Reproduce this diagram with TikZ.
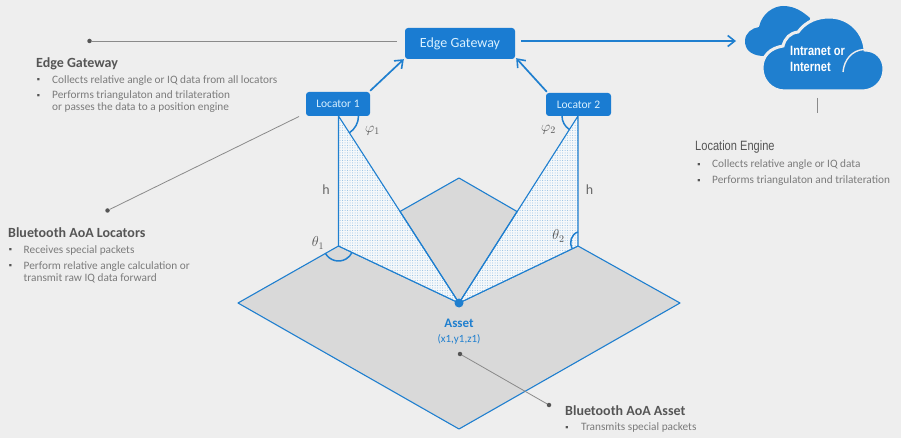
\documentclass[tikz,border=0pt]{standalone}
\usepackage{fontspec}
\setmainfont{Carlito}
\newfontfamily\cloudfont[FakeStretch=0.82]{Liberation Sans}
\usetikzlibrary{patterns.meta,arrows.meta}
\definecolor{bgc}{HTML}{EEEEEE}
\definecolor{bluec}{HTML}{1F7FCF}
\definecolor{boxc}{HTML}{1A7CD2}
\definecolor{floorc}{HTML}{D9D9D9}
\definecolor{headc}{HTML}{555555}
\definecolor{bodyc}{HTML}{7B7B7B}
\definecolor{leadc}{HTML}{8A8A8A}
\definecolor{lblc}{HTML}{D8F0FF}
\definecolor{dotc}{HTML}{8DBBE2}
\definecolor{trifill}{HTML}{F5F8FA}
\tikzset{
  txt/.style={inner sep=0pt,anchor=west,align=left},
  headtxt/.style={txt,text=headc,font=\fontsize{14}{16}\selectfont\bfseries},
  bodytxt/.style={txt,text=bodyc,font=\fontsize{11.3}{12}\selectfont},
  bullettxt/.style={inner sep=0pt,text=headc,font=\fontsize{9}{10}\selectfont},
  blubox/.style={draw=none,fill=boxc,rounded corners=3pt,text=lblc,inner sep=0pt,align=center},
  floorline/.style={draw=bluec,line width=1.1pt,line join=round},
  flow/.style={draw=bluec,line width=1.7pt,-{Straight Barb[length=7pt,width=11pt,line width=1.6pt]}},
  anglearc/.style={draw=bluec,line width=1.5pt},
  leader/.style={draw=leadc,line width=0.8pt},
  leaddot/.style={circle,fill=headc,inner sep=0pt,minimum size=4.5pt},
  mathlbl/.style={inner sep=0pt,text=headc,font=\fontsize{14.5}{16}\selectfont},
  hlbl/.style={inner sep=0pt,text=bodyc!85!black,font=\fontsize{14}{15}\selectfont},
  tri/.style={fill=trifill,postaction={pattern={Dots[distance=2.5pt,radius=0.5pt]},pattern color=dotc}}
}
\begin{document}
\begin{tikzpicture}[x=1pt,y=-1pt]
\useasboundingbox (0,0) rectangle (901,438);
\fill[bgc] (0,0) rectangle (901,438);
% geometry
\coordinate (fl) at (238,303);
\coordinate (fb) at (459,429);
\coordinate (fr) at (680,303);
\coordinate (ft) at (459,178);
\coordinate (as) at (459,303);
\coordinate (b1) at (338.5,246);
\coordinate (b2) at (578,246);
\coordinate (a1) at (338.5,116);
\coordinate (a2) at (578,116);
\coordinate (i1) at (400,211.5);
\coordinate (i2) at (517,211.5);
% floor
\path[floorline,fill=floorc] (fl) -- (b1) -- (as) -- (b2) -- (fr) -- (fb) -- cycle;
\path[tri] (a1) -- (b1) -- (as) -- cycle;
\path[tri] (a2) -- (b2) -- (as) -- cycle;
\path[floorline,fill=floorc] (as) -- (i1) -- (ft) -- (i2) -- cycle;
\draw[floorline] (a1) -- (b1) -- (as) -- cycle;
\draw[floorline] (a2) -- (b2) -- (as) -- cycle;
\fill[bluec] (as) circle[radius=4.5pt];
% angle arcs
\draw[anglearc] (a1) ++(0:20pt) arc[start angle=0,end angle=-57,radius=20pt];
\draw[anglearc] (a2) ++(180:16pt) arc[start angle=180,end angle=237,radius=16pt];
\draw[anglearc] (b1) ++(210:15pt) arc[start angle=210,end angle=335,radius=15pt];
\draw[anglearc] (578,232) .. controls (571,234) and (569,243) .. (572,248.5);
% boxes
\node[blubox,minimum width=110pt,minimum height=31pt,font=\fontsize{14}{16}\selectfont] (gw) at (460,43.5) {Edge Gateway};
\node[blubox,minimum width=64pt,minimum height=24pt,font=\fontsize{11.5}{13}\selectfont] (l1) at (338,104) {Locator 1};
\node[blubox,minimum width=65pt,minimum height=23pt,font=\fontsize{11.5}{13}\selectfont] (l2) at (578.5,104.5) {Locator 2};
% cloud
\fill[bluec] (745,41) .. controls (745,33) and (752,28) .. (759,27)
  .. controls (762,13) and (774,6) .. (783,6)
  .. controls (795,6) and (803,12) .. (810,18)
  -- (808,30) -- (780,55) -- (762,56) .. controls (750,55) and (745,49) .. (745,41) -- cycle;
\path[fill=bluec,draw=bgc,line width=3pt]
  (762,68) .. controls (762,56) and (770,48) .. (783,46)
  .. controls (785,38) and (790,33) .. (798,32)
  .. controls (806,21) and (818,17) .. (829,17)
  .. controls (850,17) and (864,33) .. (865,50)
  .. controls (876,50) and (884,58) .. (884,69)
  .. controls (884,82) and (874,91) .. (862,91)
  -- (785,91) .. controls (771,91) and (762,80) .. (762,68) -- cycle;
\draw[bgc,line width=1.4pt] (843,72) .. controls (844,60) and (852,50) .. (864,49.5);
\node[txt,text=white,font=\cloudfont\fontsize{13.5}{15.5}\selectfont\bfseries,align=left] (cl) at (790,59) {Intranet or\\Internet};
% flows
\coordinate (gwout) at (521,41);
\coordinate (clin) at (736,41);
\draw[flow] (l1.north east) ++(0,-1) -- ([xshift=-1pt]gw.south west);
\draw[flow] (l2.north west) ++(1,-1) -- ([xshift=1pt,yshift=1pt]gw.south east);
\draw[flow] (gwout) -- (clin);
% leaders
\node[leaddot] (d1) at (89.5,41) {};
\coordinate (e1) at (397,41);
\draw[leader] (d1) -- (e1);
\node[leaddot] (d2) at (107.5,210.5) {};
\coordinate (e2) at (299,116.5);
\draw[leader] (d2) -- (e2);
\node[leaddot] (d3) at (460,354) {};
\node[leaddot] (d4) at (549,405) {};
\draw[leader] (d3) -- (d4);
\coordinate (e3) at (817.5,98);
\coordinate (e4) at (817.5,113.5);
\draw[leader] (e3) -- (e4);
% labels
\node[mathlbl] (p1) at (372.5,131) {$\varphi_1$};
\node[mathlbl] (p2) at (548.5,130) {$\varphi_2$};
\node[mathlbl] (t1) at (318,243) {$\theta_1$};
\node[mathlbl] (t2) at (558.5,236) {$\theta_2$};
\node[hlbl] (h1) at (326,190) {h};
\node[hlbl] (h2) at (589.5,190) {h};
\node[inner sep=0pt,text=bluec,font=\fontsize{13}{15}\selectfont\bfseries] (asl) at (459,323.5) {Asset};
\node[inner sep=0pt,text=bluec,font=\fontsize{11}{13}\selectfont] (asc) at (459,339.5) {(x1,y1,z1)};
% Edge Gateway text
\node[headtxt] (h3) at (36,63.5) {Edge Gateway};
\node[bullettxt] (b11) at (38.5,81) {▪};
\node[bodytxt] (t11) at (52,80.5) {Collects relative angle or IQ data from all locators};
\node[bullettxt] (b12) at (38.5,96.5) {▪};
\node[bodytxt] (t12) at (52,102) {Performs triangulaton and trilateration\\or passes the data to a position engine};
% Locators text
\node[headtxt] (h4) at (8,233) {Bluetooth AoA Locators};
\node[bullettxt] (b21) at (10.5,250.5) {▪};
\node[bodytxt] (t21) at (23.5,250) {Receives special packets};
\node[bullettxt] (b22) at (10.5,266) {▪};
\node[bodytxt] (t22) at (23.5,272) {Perform relative angle calculation or\\transmit raw IQ data forward};
% Location Engine text
\node[headtxt,font=\cloudfont\fontsize{13.5}{16}\selectfont] (h5) at (695,147) {Location Engine};
\node[bullettxt] (b31) at (699,165.5) {▪};
\node[bodytxt] (t31) at (712,165) {Collects relative angle or IQ data};
\node[bullettxt] (b32) at (699,181) {▪};
\node[bodytxt] (t32) at (712,181) {Performs triangulaton and trilateration};
% Asset text
\node[headtxt] (h6) at (565,411) {Bluetooth AoA Asset};
\node[bullettxt] (b41) at (567,428) {▪};
\node[bodytxt] (t41) at (581,427.5) {Transmits special packets};
\end{tikzpicture}
\end{document}
